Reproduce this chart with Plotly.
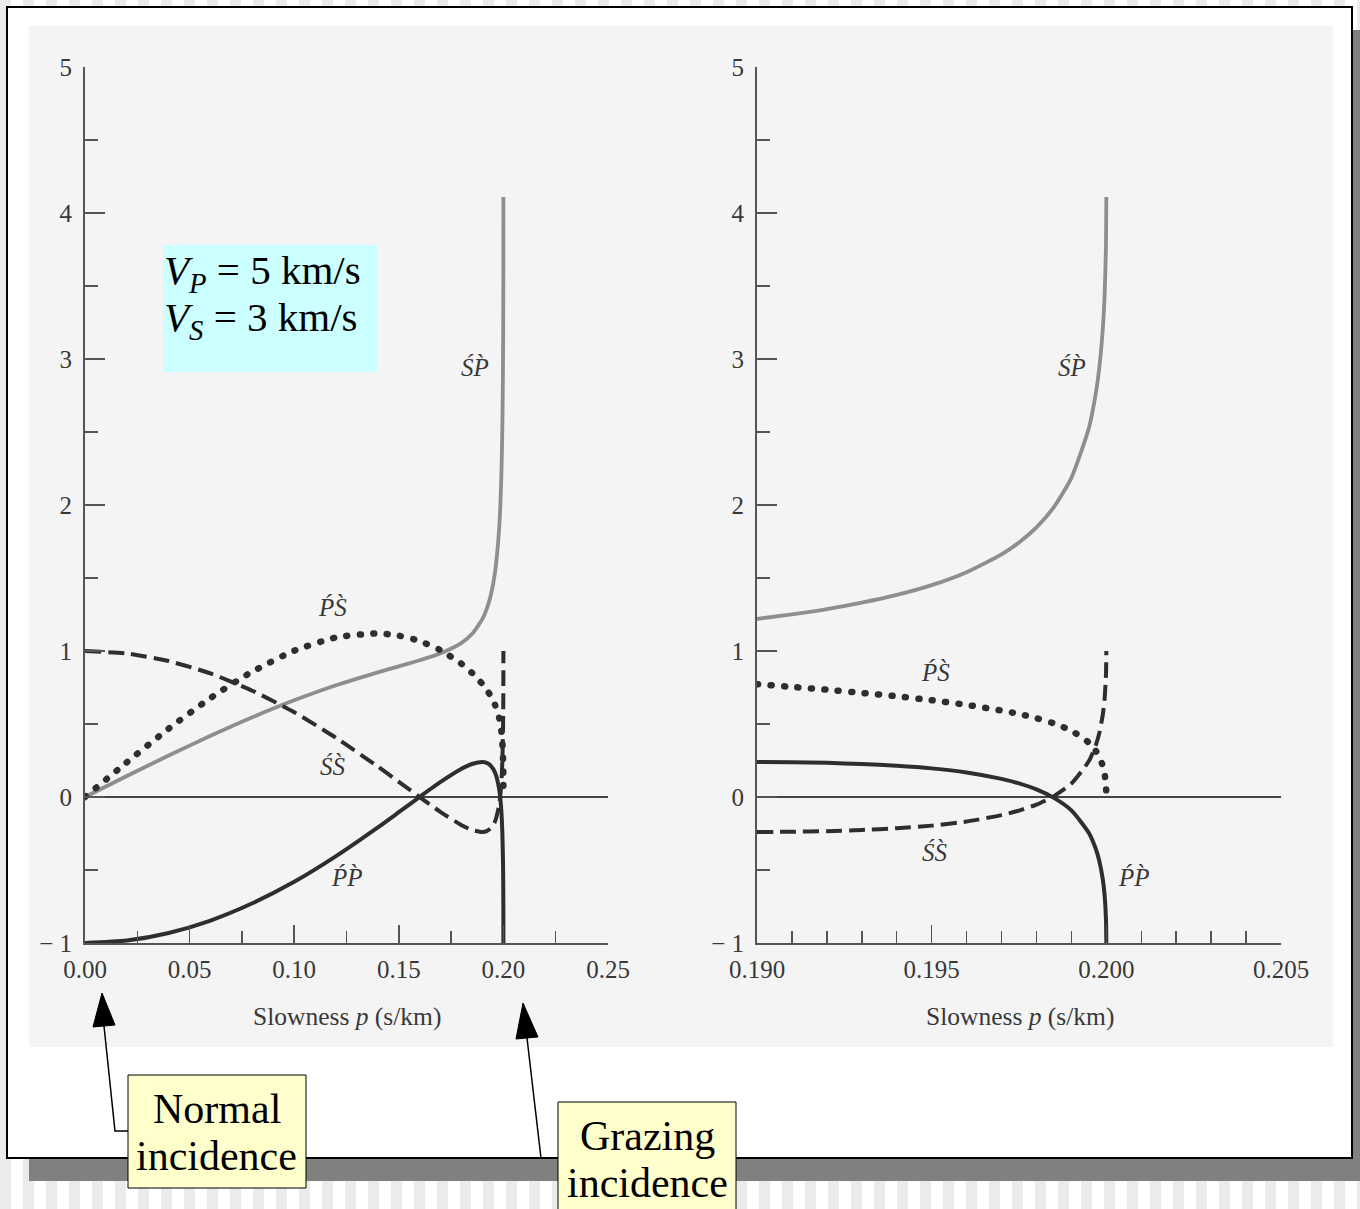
import plotly.graph_objects as go

# ---------------- data ----------------
p_left = [0, 0.02, 0.04, 0.06, 0.08, 0.10, 0.12, 0.14, 0.15, 0.16, 0.17, 0.18, 0.185,
          0.19, 0.192, 0.194, 0.196, 0.198, 0.199, 0.1995, 0.1998, 0.1999, 0.19995, 0.19999, 0.2]
pp_left = [-1, -0.983, -0.931, -0.846, -0.728, -0.581, -0.405, -0.208, -0.104, 0.001, 0.103, 0.193, 0.226,
           0.240, 0.234, 0.214, 0.168, 0.052, -0.092, -0.246, -0.439, -0.566, -0.671, -0.838, -1]
ss_left = [1, 0.983, 0.931, 0.846, 0.728, 0.581, 0.405, 0.208, 0.104, -0.001, -0.103, -0.193, -0.226,
           -0.240, -0.234, -0.214, -0.168, -0.052, 0.092, 0.246, 0.439, 0.566, 0.671, 0.838, 1]
ps_left = [0, 0.238, 0.468, 0.678, 0.859, 1.002, 1.093, 1.120, 1.105, 1.068, 1.005, 0.912, 0.850,
           0.773, 0.735, 0.690, 0.631, 0.540, 0.454, 0.372, 0.274, 0.212, 0.160, 0.079, 0]
sp_left = [0, 0.144, 0.284, 0.419, 0.546, 0.662, 0.765, 0.854, 0.895, 0.937, 0.985, 1.056, 1.116,
           1.220, 1.287, 1.384, 1.540, 1.847, 2.186, 2.527, 2.944, 3.212, 3.433, 3.780, 4.11]

p_right = [0.19, 0.191, 0.192, 0.193, 0.194, 0.195, 0.196, 0.197, 0.1975, 0.198, 0.1985, 0.199,
           0.1995, 0.1997, 0.1998, 0.1999, 0.19995, 0.19999, 0.2]
pp_right = [0.240, 0.238, 0.234, 0.226, 0.214, 0.196, 0.168, 0.124, 0.093, 0.052, -0.006, -0.092,
            -0.246, -0.356, -0.439, -0.566, -0.671, -0.838, -1]
ss_right = [-0.240, -0.238, -0.234, -0.226, -0.214, -0.196, -0.168, -0.124, -0.093, -0.052, 0.006, 0.092,
            0.246, 0.356, 0.439, 0.566, 0.671, 0.838, 1]
ps_right = [0.773, 0.754, 0.735, 0.713, 0.690, 0.663, 0.631, 0.592, 0.569, 0.540, 0.504, 0.454,
            0.372, 0.315, 0.274, 0.212, 0.160, 0.079, 0]
sp_right = [1.220, 1.251, 1.287, 1.331, 1.384, 1.451, 1.540, 1.662, 1.743, 1.847, 1.986, 2.186,
            2.527, 2.767, 2.944, 3.212, 3.433, 3.780, 4.11]

y_ticks = [-1, 0, 1, 2, 3, 4, 5]
y_ticktext = ["\u2212 1", "0", "1", "2", "3", "4", "5"]
xl_ticks = [0, 0.05, 0.10, 0.15, 0.20, 0.25]
xl_ticktext = ["0.00", "0.05", "0.10", "0.15", "0.20", "0.25"]
xr_ticks = [0.190, 0.195, 0.200, 0.205]
xr_ticktext = ["0.190", "0.195", "0.200", "0.205"]

axis_title = "Slowness <i>p</i> (s/km)"
lbl_SP = "<i>\u015AP\u0300</i>"
lbl_PS = "<i>P\u0301S\u0300</i>"
lbl_SS = "<i>\u015AS\u0300</i>"
lbl_PP = "<i>P\u0301P\u0300</i>"

# ---------------- layout helpers ----------------
W, H = 1360, 1209
def X(px): return px / W
def Y(py): return 1 - py / H

SERIF = "Liberation Serif, Times New Roman, serif"
DARK = "#2e2e2e"
GRAYL = "#8e8e8e"
AX = "#555555"
TXT = "#383838"

fig = go.Figure()

def add_set(p, pp, ss, ps, sp, xa, ya):
    fig.add_trace(go.Scatter(x=p, y=sp, mode="lines", xaxis=xa, yaxis=ya, hoverinfo="skip",
                             line=dict(color=GRAYL, width=3.8, shape="spline", smoothing=0.6)))
    fig.add_trace(go.Scatter(x=p, y=ps, mode="lines", xaxis=xa, yaxis=ya, hoverinfo="skip",
                             line=dict(color=DARK, width=6.5, dash="1px,12.5px", shape="spline", smoothing=0.6)))
    fig.add_trace(go.Scatter(x=p, y=ss, mode="lines", xaxis=xa, yaxis=ya, hoverinfo="skip",
                             line=dict(color=DARK, width=4, dash="16px,7px", shape="spline", smoothing=0.6)))
    fig.add_trace(go.Scatter(x=p, y=pp, mode="lines", xaxis=xa, yaxis=ya, hoverinfo="skip",
                             line=dict(color=DARK, width=4, shape="spline", smoothing=0.6)))

add_set(p_left, pp_left, ss_left, ps_left, sp_left, "x", "y")
add_set(p_right, pp_right, ss_right, ps_right, sp_right, "x2", "y2")

tickfont = dict(family=SERIF, size=25, color=TXT)
def xaxis_cfg(dom, rng, tv, tt, minor_dtick, tick0, anchor):
    return dict(domain=dom, range=rng, anchor=anchor, showline=True, linecolor=AX, linewidth=2,
                ticks="inside", ticklen=18, tickwidth=1.5, tickcolor=AX, showgrid=False, zeroline=False,
                tickmode="array", tickvals=tv, ticktext=tt, tickfont=tickfont, ticklabelstandoff=3,
                automargin=False,
                minor=dict(ticks="inside", ticklen=12, tickwidth=1.5, tickcolor=AX, dtick=minor_dtick,
                           tick0=tick0, showgrid=False),
                fixedrange=True)

def yaxis_cfg(anchor):
    return dict(domain=[Y(943), Y(67)], range=[-1, 5], anchor=anchor, showline=True, linecolor=AX,
                linewidth=2, ticks="inside", ticklen=20, tickwidth=1.5, tickcolor=AX, showgrid=False,
                zeroline=True, zerolinecolor="#444444", zerolinewidth=1.5,
                tickmode="array", tickvals=y_ticks, ticktext=y_ticktext, tickfont=tickfont,
                ticklabelstandoff=6, automargin=False,
                minor=dict(ticks="inside", ticklen=13, tickwidth=1.5, tickcolor=AX, dtick=0.5, tick0=0,
                           showgrid=False),
                fixedrange=True)

# ---------------- decorative slide shapes ----------------
shapes = []
for k in range(0, 60):
    x0 = 23 * k
    shapes.append(dict(type="rect", xref="paper", yref="paper", x0=X(x0), x1=X(x0 + 11), y0=0, y1=1,
                       fillcolor="#ebebeb", line=dict(width=0), layer="below"))
shapes.append(dict(type="rect", xref="paper", yref="paper", x0=X(29), x1=X(1375), y0=Y(1181), y1=Y(30),
                   fillcolor="#808080", line=dict(width=0), layer="below"))
shapes.append(dict(type="rect", xref="paper", yref="paper", x0=X(7), x1=X(1352), y0=Y(1158), y1=Y(7),
                   fillcolor="white", line=dict(color="black", width=2), layer="below"))
shapes.append(dict(type="rect", xref="paper", yref="paper", x0=X(29), x1=X(1333), y0=Y(1047), y1=Y(26),
                   fillcolor="#f4f4f4", line=dict(width=0), layer="below"))
shapes.append(dict(type="rect", xref="paper", yref="paper", x0=X(163), x1=X(378), y0=Y(372), y1=Y(245),
                   fillcolor="#ccffff", line=dict(width=0), layer="below"))
# callout boxes
shapes.append(dict(type="rect", xref="paper", yref="paper", x0=X(128), x1=X(306), y0=Y(1188), y1=Y(1075),
                   fillcolor="#ffffcc", line=dict(color="black", width=1), layer="above"))
shapes.append(dict(type="rect", xref="paper", yref="paper", x0=X(558), x1=X(736), y0=Y(1215), y1=Y(1102),
                   fillcolor="#ffffcc", line=dict(color="black", width=1), layer="above"))

def path(pts, close=False):
    s = "M " + " L ".join(f"{X(a):.5f},{Y(b):.5f}" for a, b in pts)
    return s + (" Z" if close else "")

shapes.append(dict(type="path", xref="paper", yref="paper", path=path([(104, 1026), (115, 1131), (128, 1131)]),
                   line=dict(color="black", width=1.5), layer="above"))
shapes.append(dict(type="path", xref="paper", yref="paper", path=path([(102, 993), (93, 1027), (115, 1025)], True),
                   fillcolor="black", line=dict(color="black", width=1), layer="above"))
shapes.append(dict(type="path", xref="paper", yref="paper", path=path([(527, 1038), (541, 1158), (558, 1158)]),
                   line=dict(color="black", width=1.5), layer="above"))
shapes.append(dict(type="path", xref="paper", yref="paper", path=path([(523, 1003), (516, 1039), (538, 1037)], True),
                   fillcolor="black", line=dict(color="black", width=1), layer="above"))

# ---------------- annotations ----------------
ann = []
def txt(text, px, py, size, color="black", xanchor="center", yanchor="middle"):
    ann.append(dict(text=text, xref="paper", yref="paper", x=X(px), y=Y(py), showarrow=False,
                    xanchor=xanchor, yanchor=yanchor, font=dict(family=SERIF, size=size, color=color)))

txt(axis_title, 347, 1017, 25.5, TXT)
txt(axis_title, 1020, 1017, 25.5, TXT)
txt("<i>V</i><sub><i>P</i></sub> = 5 km/s", 162, 273, 41, xanchor="left")
txt("<i>V</i><sub><i>S</i></sub> = 3 km/s", 162, 320, 41, xanchor="left")
txt("Normal", 217, 1109, 42)
txt("incidence", 217, 1156, 42)
txt("Grazing", 647, 1136, 42)
txt("incidence", 647, 1183, 42)

def clabel(text, x, y, xr, yr):
    ann.append(dict(text=text, xref=xr, yref=yr, x=x, y=y, showarrow=False,
                    font=dict(family=SERIF, size=25, color=TXT)))

clabel(lbl_SP, 0.1864, 2.94, "x", "y")
clabel(lbl_PS, 0.1185, 1.30, "x", "y")
clabel(lbl_SS, 0.1185, 0.21, "x", "y")
clabel(lbl_PP, 0.1252, -0.55, "x", "y")
clabel(lbl_SP, 0.19902, 2.94, "x2", "y2")
clabel(lbl_PS, 0.19510, 0.856, "x2", "y2")
clabel(lbl_SS, 0.19510, -0.377, "x2", "y2")
clabel(lbl_PP, 0.20079, -0.55, "x2", "y2")

fig.update_layout(
    width=W, height=H, margin=dict(l=0, r=0, t=0, b=0, pad=0, autoexpand=False),
    paper_bgcolor="white", plot_bgcolor="rgba(0,0,0,0)", showlegend=False,
    xaxis=xaxis_cfg([X(85), X(608)], [0, 0.25], xl_ticks, xl_ticktext, 0.025, 0, "y"),
    xaxis2=xaxis_cfg([X(757), X(1281)], [0.19, 0.205], xr_ticks, xr_ticktext, 0.001, 0.19, "y2"),
    yaxis=yaxis_cfg("x"),
    yaxis2=yaxis_cfg("x2"),
    shapes=shapes, annotations=ann,
)

post = """
document.querySelectorAll('path.js-line').forEach(function(p){
  var d = p.style.strokeDasharray || '';
  if (d.indexOf('12.5px') >= 0) { p.style.strokeLinecap = 'round'; }
});
"""
fig.write_html("out.html", config=dict(displayModeBar=False, staticPlot=True), post_script=post)
